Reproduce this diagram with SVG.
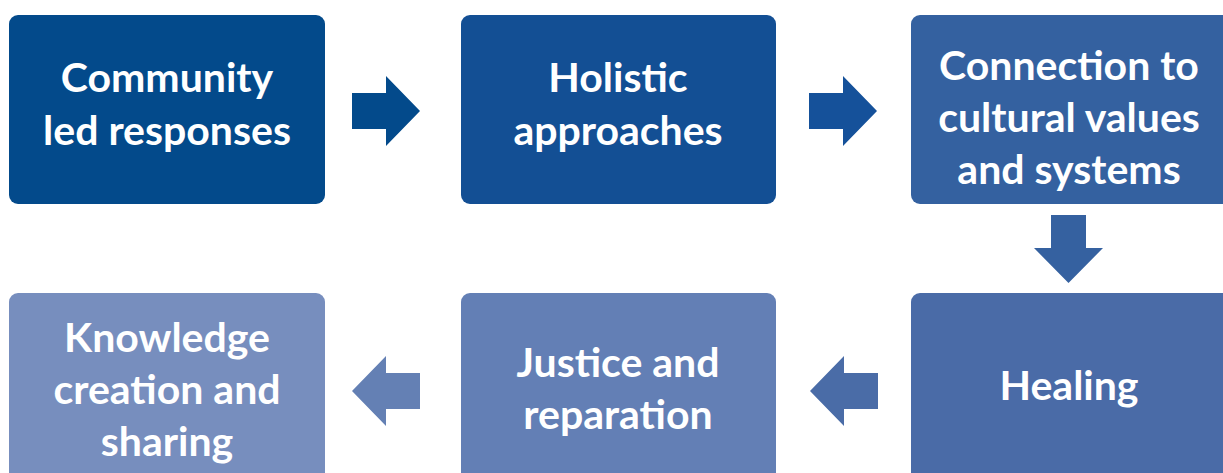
<svg xmlns="http://www.w3.org/2000/svg" width="1223" height="473" viewBox="0 0 1223 473">
<style>
.t{font-family:Lato,"Open Sans","Liberation Sans",sans-serif;font-weight:bold;font-size:41px;fill:#fff;text-anchor:middle}
</style>
<rect width="1223" height="473" fill="#fff"/>
<g id="n1"><rect x="9" y="15" width="316" height="189" rx="9" fill="#034a8b"/>
<text class="t" x="167" y="92">Community</text><text class="t" x="167" y="145">led responses</text></g>
<g id="n2"><rect x="461" y="15" width="315" height="189" rx="9" fill="#134f94"/>
<text class="t" x="618" y="92">Holistic</text><text class="t" x="618" y="145">approaches</text></g>
<g id="n3"><rect x="911" y="15" width="320" height="189" rx="9" fill="#3461a0"/>
<text class="t" x="1069" y="80">Connection to</text><text class="t" x="1069" y="132">cultural values</text><text class="t" x="1069" y="184">and systems</text></g>
<g id="n4"><rect x="911" y="293" width="320" height="195" rx="9" fill="#4a6ba7"/>
<text class="t" x="1069" y="400">Healing</text></g>
<g id="n5"><rect x="461" y="293" width="315" height="195" rx="9" fill="#637fb5"/>
<text class="t" x="618" y="377">Justice and</text><text class="t" x="618" y="429">reparation</text></g>
<g id="n6"><rect x="9" y="293" width="316" height="195" rx="9" fill="#778ebe"/>
<text class="t" x="167" y="352">Knowledge</text><text class="t" x="167" y="404">creation and</text><text class="t" x="167" y="456">sharing</text></g>
<g id="connectors">
<polygon points="352,93 386,93 386,76 420,111 386,146 386,129 352,129" fill="#034a8b"/>
<polygon points="809,93 843,93 843,76 877,111 843,146 843,129 809,129" fill="#15519a"/>
<polygon points="1051,215 1086,215 1086,248 1103,248 1068.5,283 1034,248 1051,248" fill="#3561a0"/>
<polygon points="878,373 844,373 844,356 810,391 844,426 844,409 878,409" fill="#4a6ca7"/>
<polygon points="420,373 386,373 386,356 352,391 386,426 386,409 420,409" fill="#6480b4"/>
</g>
</svg>
